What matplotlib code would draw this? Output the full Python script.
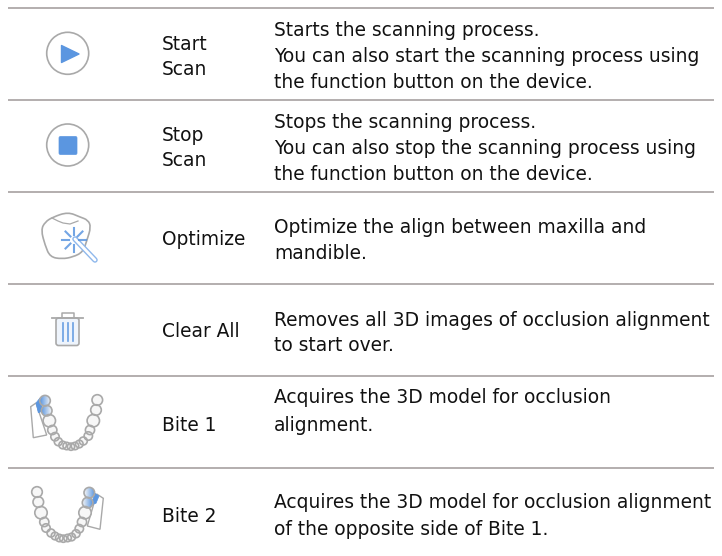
#!/usr/bin/env python3

import matplotlib

matplotlib.use("Agg")
import matplotlib.pyplot as plt
from matplotlib.colors import LinearSegmentedColormap
from matplotlib.patches import Circle, FancyBboxPatch, Polygon, PathPatch
from matplotlib.path import Path
import numpy as np

plt.rcParams["font.family"] = ["DejaVu Sans"]

row_lines = [7.5, 99.5, 191.5, 284, 376, 468]
names = [["Start", "Scan"], ["Stop", "Scan"], ["Optimize"], ["Clear All"], ["Bite 1"], ["Bite 2"]]
name_base = [[50, 75], [141, 166.5], [245], [337], [431], [521.5]]
descriptions = [
    ["Starts the scanning process.", "You can also start the scanning process using", "the function button on the device."],
    ["Stops the scanning process.", "You can also stop the scanning process using", "the function button on the device."],
    ["Optimize the align between maxilla and", "mandible."],
    ["Removes all 3D images of occlusion alignment", "to start over."],
    ["Acquires the 3D model for occlusion", "alignment."],
    ["Acquires the 3D model for occlusion alignment", "of the opposite side of Bite 1."],
]
desc_base = [[36, 62.5, 88.5], [128.5, 154.5, 180], [232.7, 259.3], [326, 351.3], [403.3, 430.7], [508.3, 535]]

# tooth arch for the bite icons
tooth_x = [97.3, 96, 93.3, 90, 88.3, 83.3, 79.3, 75, 71, 66.7, 62.7, 58.3, 55, 52.3, 49.3, 46.7, 45]
tooth_y = [400, 410, 420.7, 430, 436, 441, 444, 446, 446.7, 446, 445, 441.7, 436.7, 430, 420.7, 410.7, 400.7]
tooth_r = [5.3, 5.3, 6.2, 4.6, 4.2, 4, 3.8, 3.7, 3.6, 3.7, 3.8, 4, 4.2, 4.6, 6.2, 5.3, 5.3]

GREY = "#a9a9a9"
BLUE = "#5b96e0"
LINE = "#aea8a8"
TEXT = "#111111"
FONT = 13.4


def smooth_closed(points):
    # quadratic segments through the midpoints, keeps the outline round
    pts = np.array(points, dtype=float)
    mids = (pts + np.roll(pts, -1, axis=0)) / 2
    verts = [mids[-1]]
    codes = [Path.MOVETO]
    for p, m in zip(pts, mids):
        verts += [p, m]
        codes += [Path.CURVE3, Path.CURVE3]
    return Path(verts, codes)


def draw_arch(xs, ys, hi_idx, flip):
    cmap = LinearSegmentedColormap.from_list("hi", [BLUE, "#f7f7f7"])
    for i, (x, y, r) in enumerate(zip(xs, ys, tooth_r)):
        ax.add_patch(Circle((x, y), r, fc="#f7f7f7", ec="none"))
        if i in hi_idx:
            grad = np.linspace(0, 1, 32).reshape(1, -1)
            if flip:
                grad = grad[:, ::-1]
            im = ax.imshow(grad, cmap=cmap, extent=(x - r, x + r, y + r, y - r), aspect="auto", zorder=1.5)
            im.set_clip_path(Circle((x, y), r, transform=ax.transData))
        ax.add_patch(Circle((x, y), r, fc="none", ec=GREY, lw=1.2, zorder=2))


fig = plt.figure(figsize=(7.22, 5.56), dpi=100)
ax = fig.add_axes([0, 0, 1, 1])

for y in row_lines:
    ax.plot([8, 714], [y, y], color=LINE, lw=1.3, solid_capstyle="butt")

for lines, ys in zip(names, name_base):
    for s, y in zip(lines, ys):
        ax.text(162, y, s, fontsize=FONT, color=TEXT, va="baseline", ha="left")

for lines, ys in zip(descriptions, desc_base):
    for s, y in zip(lines, ys):
        ax.text(274, y, s, fontsize=FONT, color=TEXT, va="baseline", ha="left")

# start button
ax.add_patch(Circle((67.7, 53.3), 21, fc="white", ec=GREY, lw=1.2))
ax.add_patch(Polygon([[61.5, 45.5], [61.5, 62.5], [79, 54]], closed=True, fc=BLUE, ec=BLUE, lw=1, joinstyle="round"))

# stop button
ax.add_patch(Circle((67.7, 145), 21, fc="white", ec=GREY, lw=1.2))
ax.add_patch(FancyBboxPatch((59, 136.5), 18, 18, boxstyle="round,pad=0,rounding_size=1.5", fc=BLUE, ec=BLUE, lw=0.5))

# optimize tooth
tooth_outline = [
    (41, 230), (45, 222), (53, 217), (68, 212), (80, 217), (88, 220), (91, 227),
    (87, 240), (83, 252), (73, 257), (62, 259), (50, 257), (45, 245),
]
ax.add_patch(PathPatch(smooth_closed(tooth_outline), fc="white", ec=GREY, lw=1.2))
ax.plot([52, 58, 63, 70, 78], [218, 221, 223, 224, 221], color=GREY, lw=0.9)
ax.plot([75, 95], [239, 260], color="#8fb8ec", lw=4, solid_capstyle="round")
ax.plot([75, 95], [239, 260], color="white", lw=2, solid_capstyle="round")
for ang in np.deg2rad([0, 45, 90, 135, 180, 225, 270]):
    ax.plot(
        [74 + 5 * np.cos(ang), 74 + 12 * np.cos(ang)],
        [240 - 5 * np.sin(ang), 240 - 12 * np.sin(ang)],
        color=BLUE, lw=1.5, alpha=0.85,
    )

# trash can
ax.add_patch(FancyBboxPatch((56, 318), 23, 27.5, boxstyle="round,pad=0,rounding_size=2.5", fc="#eef4fc", ec=GREY, lw=1.2))
ax.plot([52, 83], [317.5, 317.5], color=GREY, lw=1.3)
ax.plot([62, 62, 74, 74], [317, 313, 313, 317], color=GREY, lw=1.1)
for x in [63, 68, 72.5]:
    ax.plot([x, x], [323, 341], color=BLUE, lw=1.2, alpha=0.9)

# bite 1
ax.add_patch(Polygon([[36, 403], [30.7, 406.7], [33.3, 437.7], [46.7, 435]], closed=True, fc="white", ec=GREY, lw=1))
ax.add_patch(Polygon([[40, 398], [36, 403], [38.3, 412.7], [43, 411]], closed=True, fc=BLUE, ec=BLUE, lw=0.5))
draw_arch(tooth_x, tooth_y, [15, 16], False)

# bite 2, the same arch mirrored into the next row
mirror_x = [134.3 - x for x in tooth_x]
mirror_y = [y + 92 for y in tooth_y]
ax.add_patch(Polygon([[96.7, 494], [103.3, 498.3], [100, 529.3], [87.3, 526]], closed=True, fc="white", ec=GREY, lw=1))
ax.add_patch(Polygon([[95, 493.3], [99, 496], [96, 503.3], [90.7, 505]], closed=True, fc=BLUE, ec=BLUE, lw=0.5))
draw_arch(mirror_x, mirror_y, [15, 16], True)

# imshow touches the limits, so they go last
ax.set_xlim(0, 722)
ax.set_ylim(556, 0)
ax.axis("off")

plt.savefig("out.png", dpi=100)
